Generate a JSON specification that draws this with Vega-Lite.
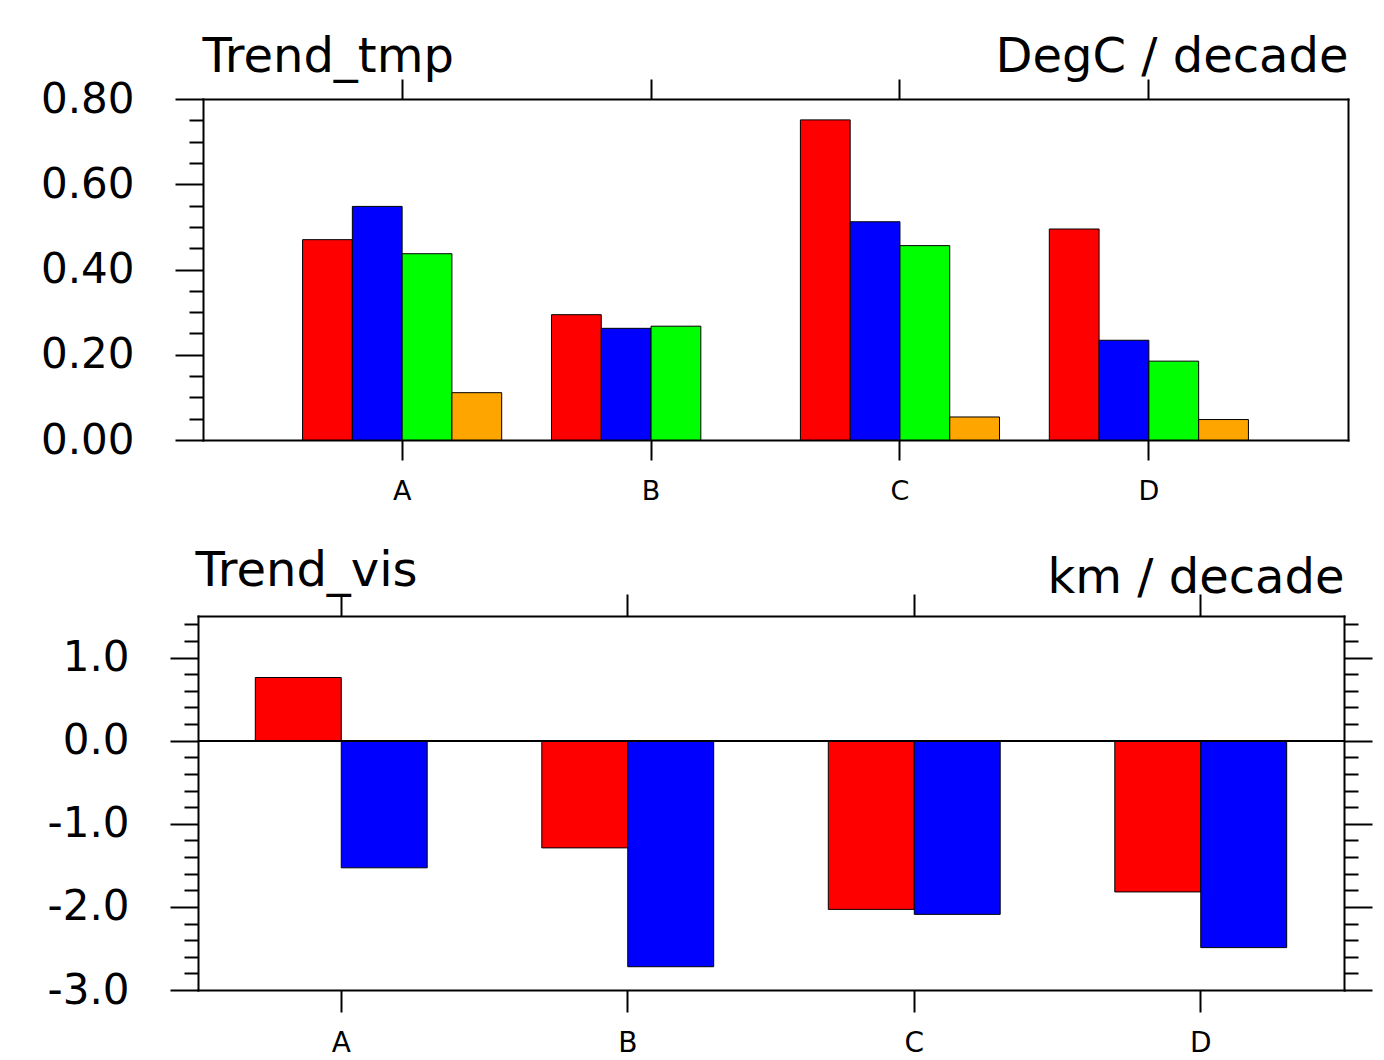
{
  "$schema": "https://vega.github.io/schema/vega-lite/v6.json",
  "padding": {"left": 40, "top": 33, "right": 0, "bottom": 0},
  "background": "white",
  "spacing": 43,
  "resolve": {"scale": {"xOffset": "independent", "color": "independent", "x": "independent", "y": "independent"}},
  "config": {
    "font": "DejaVu Sans",
    "view": {"stroke": null},
    "axis": {"grid": false, "labelColor": "black", "tickColor": "black", "domainColor": "black", "titleColor": "black", "labelFont": "DejaVu Sans", "titleFont": "DejaVu Sans", "titleFontWeight": "normal", "domainWidth": 2, "tickWidth": 2, "domainCap": "square"}
  },
  "datasets": {
    "tmp": [
      {"region": "A", "series": "s1", "value": 0.470},
      {"region": "A", "series": "s2", "value": 0.548},
      {"region": "A", "series": "s3", "value": 0.437},
      {"region": "A", "series": "s4", "value": 0.111},
      {"region": "B", "series": "s1", "value": 0.294},
      {"region": "B", "series": "s2", "value": 0.262},
      {"region": "B", "series": "s3", "value": 0.267},
      {"region": "C", "series": "s1", "value": 0.751},
      {"region": "C", "series": "s2", "value": 0.512},
      {"region": "C", "series": "s3", "value": 0.456},
      {"region": "C", "series": "s4", "value": 0.054},
      {"region": "D", "series": "s1", "value": 0.495},
      {"region": "D", "series": "s2", "value": 0.234},
      {"region": "D", "series": "s3", "value": 0.185},
      {"region": "D", "series": "s4", "value": 0.048}
    ],
    "vis": [
      {"region": "A", "series": "v1", "value": 0.76},
      {"region": "A", "series": "v2", "value": -1.53},
      {"region": "B", "series": "v1", "value": -1.29},
      {"region": "B", "series": "v2", "value": -2.72},
      {"region": "C", "series": "v1", "value": -2.03},
      {"region": "C", "series": "v2", "value": -2.09},
      {"region": "D", "series": "v1", "value": -1.82},
      {"region": "D", "series": "v2", "value": -2.49}
    ]
  },
  "vconcat": [
    {
      "width": 1150,
      "height": 341,
      "data": {"name": "tmp"},
      "layer": [
        {
          "mark": {"type": "bar", "stroke": "black", "strokeWidth": 1},
          "encoding": {
            "x": {"field": "region", "type": "nominal",
              "scale": {"domain": ["A", "B", "C", "D"], "paddingInner": 0.2, "paddingOuter": 0.4, "range": [5, 1150]},
              "axis": {"orient": "bottom", "bandPosition": 0.5, "domain": true, "ticks": true, "tickSize": 20, "labelFontSize": 27, "labelPadding": 18, "labelAngle": 0, "title": null}},
            "xOffset": {"field": "series", "type": "nominal", "scale": {"domain": ["s1", "s2", "s3", "s4"], "paddingInner": 0, "paddingOuter": 0}},
            "y": {"field": "value", "type": "quantitative",
              "scale": {"domain": [0, 0.8], "nice": false},
              "axis": {"orient": "left", "offset": -5,
                "values": [0, 0.05, 0.1, 0.15, 0.2, 0.25, 0.3, 0.35, 0.4, 0.45, 0.5, 0.55, 0.6, 0.65, 0.7, 0.75, 0.8],
                "tickSize": {"condition": {"test": "abs(datum.value*5 - round(datum.value*5)) < 0.001", "value": 28}, "value": 14},
                "labelExpr": "abs(datum.value*5 - round(datum.value*5)) < 0.001 ? format(datum.value, '.2f') : ''",
                "labelFontSize": 42, "labelPadding": 41, "labelBaseline": "middle",
                "title": "Trend_tmp", "titleAngle": 0, "titleX": -1, "titleY": -28, "titleAlign": "left", "titleBaseline": "alphabetic", "titleFontSize": 48}},
            "color": {"field": "series", "type": "nominal", "scale": {"domain": ["s1", "s2", "s3", "s4"], "range": ["#ff0000", "#0000ff", "#00ff00", "#ffa500"]}, "legend": null}
          }
        },
        {
          "mark": {"type": "bar", "opacity": 0},
          "encoding": {
            "x": {"field": "region", "type": "nominal",
              "axis": {"orient": "top", "bandPosition": 0.5, "domain": true, "ticks": true, "tickSize": 20, "labels": false,
                "title": "DegC / decade", "titleX": 1150, "titleY": -28, "titleAlign": "right", "titleBaseline": "alphabetic", "titleFontSize": 48, "titleAngle": 0}},
            "xOffset": {"field": "series", "type": "nominal"},
            "y": {"field": "value", "type": "quantitative",
              "axis": {"orient": "right", "domain": true, "ticks": false, "labels": false, "title": null}}
          }
        }
      ],
      "resolve": {"axis": {"x": "independent", "y": "independent"}}
    },
    {
      "width": 1146,
      "height": 374,
      "data": {"name": "vis"},
      "layer": [
        {
          "mark": {"type": "bar", "stroke": "black", "strokeWidth": 1},
          "encoding": {
            "x": {"field": "region", "type": "nominal",
              "scale": {"domain": ["A", "B", "C", "D"], "paddingInner": 0.4, "paddingOuter": 0.2},
              "axis": {"orient": "bottom", "bandPosition": 0.5, "domain": true, "ticks": true, "tickSize": 22, "labelFontSize": 28, "labelPadding": 17, "labelAngle": 0, "title": null}},
            "xOffset": {"field": "series", "type": "nominal", "scale": {"domain": ["v1", "v2"], "paddingInner": 0, "paddingOuter": 0}},
            "y": {"field": "value", "type": "quantitative",
              "scale": {"domain": [-3, 1.5], "nice": false},
              "axis": {"orient": "left",
                "values": [-3, -2.8, -2.6, -2.4, -2.2, -2, -1.8, -1.6, -1.4, -1.2, -1, -0.8, -0.6, -0.4, -0.2, 0, 0.2, 0.4, 0.6, 0.8, 1, 1.2, 1.4],
                "tickSize": {"condition": {"test": "abs(datum.value - round(datum.value)) < 0.001", "value": 28}, "value": 14},
                "labelExpr": "abs(datum.value - round(datum.value)) < 0.001 ? (datum.value < 0 ? '-' + format(-datum.value, '.1f') : format(datum.value, '.1f')) : ''",
                "labelFontSize": 42, "labelPadding": 41, "labelBaseline": "middle",
                "title": "Trend_vis", "titleAngle": 0, "titleX": -3, "titleY": -31, "titleAlign": "left", "titleBaseline": "alphabetic", "titleFontSize": 48}},
            "color": {"field": "series", "type": "nominal", "scale": {"domain": ["v1", "v2"], "range": ["#ff0000", "#0000ff"]}, "legend": null}
          }
        },
        {
          "mark": {"type": "bar", "opacity": 0},
          "encoding": {
            "x": {"field": "region", "type": "nominal",
              "axis": {"orient": "top", "bandPosition": 0.5, "domain": true, "ticks": true, "tickSize": 22, "labels": false,
                "title": "km / decade", "titleX": 1146, "titleY": -24, "titleAlign": "right", "titleBaseline": "alphabetic", "titleFontSize": 48, "titleAngle": 0}},
            "xOffset": {"field": "series", "type": "nominal"},
            "y": {"field": "value", "type": "quantitative",
              "axis": {"orient": "right",
                "values": [-3, -2.8, -2.6, -2.4, -2.2, -2, -1.8, -1.6, -1.4, -1.2, -1, -0.8, -0.6, -0.4, -0.2, 0, 0.2, 0.4, 0.6, 0.8, 1, 1.2, 1.4],
                "tickSize": {"condition": {"test": "abs(datum.value - round(datum.value)) < 0.001", "value": 28}, "value": 14},
                "labels": false, "title": null}}
          }
        },
        {
          "mark": {"type": "rule", "color": "black", "strokeWidth": 1.5},
          "encoding": {
            "y": {"datum": 0, "type": "quantitative", "axis": null}
          }
        }
      ],
      "resolve": {"axis": {"x": "independent", "y": "independent"}}
    }
  ]
}
